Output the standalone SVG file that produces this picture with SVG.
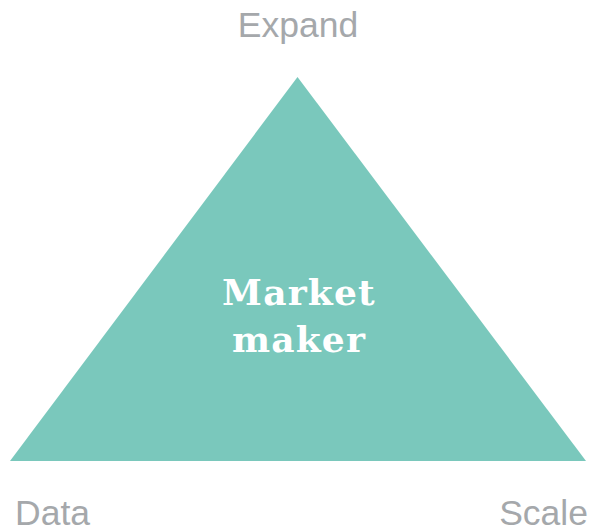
<svg xmlns="http://www.w3.org/2000/svg" width="592" height="530" viewBox="0 0 592 530">
<style>
.lbl{font-family:"Liberation Sans",Arial,sans-serif;font-size:35.5px;fill:#A5A8AB}
.ctr{font-family:"DejaVu Serif",serif;font-weight:bold;font-size:36px;letter-spacing:1.2px;fill:#FFFFFF;text-anchor:middle}
</style>
<rect width="592" height="530" fill="#FFFFFF"/>
<g id="triangle">
<polygon points="297.5,77 10,461 586,461" fill="#7AC8BC"/>
<text class="ctr" x="299" y="305">Market</text>
<text class="ctr" x="299" y="352">maker</text>
</g>
<g id="expand"><text class="lbl" x="298" y="37" text-anchor="middle">Expand</text></g>
<g id="data"><text class="lbl" x="15" y="525">Data</text></g>
<g id="scale"><text class="lbl" x="588" y="525" text-anchor="end">Scale</text></g>
<g id="connectors"></g>
</svg>
